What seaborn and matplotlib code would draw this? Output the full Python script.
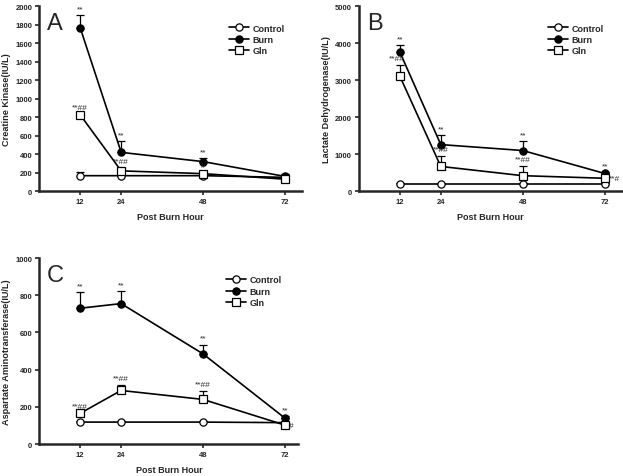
import numpy as np
import pandas as pd
import seaborn as sns
import matplotlib.pyplot as plt

hours = [12, 24, 48, 72]
groups = ['Control', 'Burn', 'Gln']

# A - creatine kinase
ck_control = [168, 168, 168, 150]
ck_burn = [1765, 420, 320, 160]
ck_gln = [825, 220, 190, 130]
ck_control_err = [40, 10, 10, 10]
ck_burn_err = [135, 120, 40, 25]
ck_gln_err = [15, 30, 20, 60]
ck_burn_sig = ['**', '**', '**', '']
ck_gln_sig = ['**##', '**##', '#', '']

# B - lactate dehydrogenase
ldh_control = [200, 200, 200, 200]
ldh_burn = [3760, 1260, 1100, 480]
ldh_gln = [3110, 670, 420, 350]
ldh_control_err = [20, 20, 20, 20]
ldh_burn_err = [190, 260, 260, 40]
ldh_gln_err = [310, 280, 260, 30]
ldh_burn_sig = ['**', '**', '**', '**']
ldh_gln_sig = ['**##', '**##', '**##', '**#']

# C - aspartate aminotransferase
ast_control = [118, 118, 118, 115]
ast_burn = [730, 755, 485, 140]
ast_gln = [165, 288, 240, 102]
ast_control_err = [5, 5, 5, 5]
ast_burn_err = [85, 65, 50, 10]
ast_gln_err = [5, 32, 45, 5]
ast_burn_sig = ['**', '**', '**', '**']
ast_gln_sig = ['**##', '**##', '**##', '#']

sns.set_style('ticks')
plt.rcParams['font.family'] = ['Liberation Sans', 'DejaVu Sans']
plt.rcParams['font.weight'] = 'bold'

fig = plt.figure(figsize=(6.23, 4.77), dpi=100)
axA = fig.add_axes([0.063, 0.597, 0.422, 0.388])
axB = fig.add_axes([0.576, 0.597, 0.422, 0.388])
axC = fig.add_axes([0.063, 0.067, 0.416, 0.39])

styles = {
    'Control': dict(marker='o', markerfacecolor='white'),
    'Burn': dict(marker='o', markerfacecolor='black'),
    'Gln': dict(marker='s', markerfacecolor='white'),
}


def panel(ax, letter, ylabel, ymax, ystep, vals, errs, burn_sig, gln_sig, xmax, gln_side):
    for g, v, e in zip(groups, vals, errs):
        sns.lineplot(x=hours, y=v, ax=ax, color='black', linewidth=1.2,
                     markersize=5.2, markeredgecolor='black', markeredgewidth=0.9,
                     label=g, zorder=3, **styles[g])
        ax.errorbar(hours, v, yerr=[np.zeros(len(e)), e], fmt='none', ecolor='black',
                    elinewidth=0.9, capsize=3, capthick=0.9, zorder=2)
    burn, gln = vals[1], vals[2]
    for i, h in enumerate(hours):
        if burn_sig[i]:
            ax.annotate(burn_sig[i], (h, burn[i] + errs[1][i]), xytext=(0, 2),
                        textcoords='offset points', ha='center', va='bottom',
                        fontsize=6, fontweight='normal')
        if gln_sig[i]:
            dx, dy, ha, va = gln_side[i]
            ax.annotate(gln_sig[i], (h, gln[i] + (errs[2][i] if va == 'bottom' else 0)),
                        xytext=(dx, dy), textcoords='offset points', ha=ha, va=va,
                        fontsize=6, fontweight='normal')
    ax.set_xlim(0, xmax)
    ax.set_ylim(0, ymax)
    ax.set_xticks(hours)
    ax.set_yticks(np.arange(0, ymax + 1, ystep))
    ax.tick_params(labelsize=5.5, width=1.2, length=3, pad=2)
    for s in ['top', 'right']:
        ax.spines[s].set_visible(False)
    for s in ['left', 'bottom']:
        ax.spines[s].set_linewidth(1.8)
    ax.set_xlabel('Post Burn Hour', fontsize=6.5, fontweight='bold', labelpad=5)
    ax.set_ylabel(ylabel, fontsize=6.6, fontweight='bold', labelpad=3)
    ax.text(0.03, 0.97, letter, transform=ax.transAxes, fontsize=17,
            fontweight='normal', va='top', ha='left')
    ax.legend(loc='upper left', bbox_to_anchor=(0.69, 0.95), frameon=False,
              fontsize=6.5, handlelength=2.2, labelspacing=0.25, handletextpad=0.4)


c = (0, 2, 'center', 'bottom')
panel(axA, 'A', 'Creatine Kinase(IU/L)', 2000, 200,
      [ck_control, ck_burn, ck_gln], [ck_control_err, ck_burn_err, ck_gln_err],
      ck_burn_sig, ck_gln_sig, 77, [c, c, c, c])
panel(axB, 'B', 'Lactate Dehydrogenase(IU/L)', 5000, 1000,
      [ldh_control, ldh_burn, ldh_gln], [ldh_control_err, ldh_burn_err, ldh_gln_err],
      ldh_burn_sig, ldh_gln_sig, 77, [(-2, 2, 'center', 'bottom'), c, c, (3, 0, 'left', 'center')])
panel(axC, 'C', 'Aspartate Aminotransferase(IU/L)', 1000, 200,
      [ast_control, ast_burn, ast_gln], [ast_control_err, ast_burn_err, ast_gln_err],
      ast_burn_sig, ast_gln_sig, 76, [c, c, c, (3, 0, 'left', 'center')])

fig.savefig('out.png', dpi=100)
